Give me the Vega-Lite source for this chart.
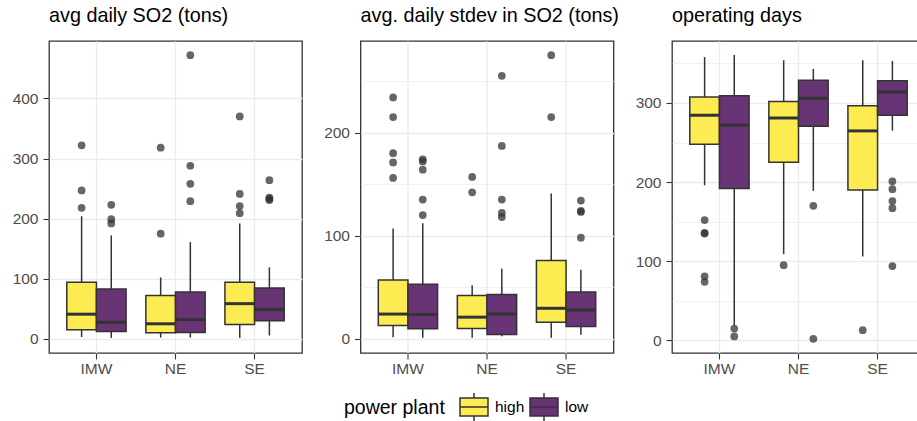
{
  "$schema": "https://vega.github.io/schema/vega-lite/v6.json",
  "background": "white",
  "padding": {"left": 11, "top": 5, "right": 0, "bottom": 0},
  "datasets": {
    "boxes": [
      {"metric": "so2", "region": "IMW", "plant": "high", "lo": 3, "q1": 15, "med": 41, "q3": 94, "hi": 204},
      {"metric": "so2", "region": "IMW", "plant": "low", "lo": 1.5, "q1": 12, "med": 27.5, "q3": 83, "hi": 172},
      {"metric": "so2", "region": "NE", "plant": "high", "lo": 2, "q1": 10, "med": 25, "q3": 72, "hi": 102},
      {"metric": "so2", "region": "NE", "plant": "low", "lo": 2, "q1": 10.5, "med": 32, "q3": 78, "hi": 161},
      {"metric": "so2", "region": "SE", "plant": "high", "lo": 1.5, "q1": 24, "med": 58.5, "q3": 94, "hi": 192},
      {"metric": "so2", "region": "SE", "plant": "low", "lo": 5.5, "q1": 30, "med": 49, "q3": 84.6, "hi": 119},
      {"metric": "sd", "region": "IMW", "plant": "high", "lo": 1.6, "q1": 13, "med": 24, "q3": 57, "hi": 107},
      {"metric": "sd", "region": "IMW", "plant": "low", "lo": 1, "q1": 9.7, "med": 23.5, "q3": 53, "hi": 112},
      {"metric": "sd", "region": "NE", "plant": "high", "lo": 1, "q1": 10, "med": 21, "q3": 42, "hi": 52},
      {"metric": "sd", "region": "NE", "plant": "low", "lo": 2.5, "q1": 4.2, "med": 24, "q3": 43, "hi": 68},
      {"metric": "sd", "region": "SE", "plant": "high", "lo": 1, "q1": 16, "med": 29.6, "q3": 76, "hi": 141},
      {"metric": "sd", "region": "SE", "plant": "low", "lo": 3.9, "q1": 12, "med": 28, "q3": 45.5, "hi": 67},
      {"metric": "days", "region": "IMW", "plant": "high", "lo": 196, "q1": 248, "med": 284.5, "q3": 307.6, "hi": 358},
      {"metric": "days", "region": "IMW", "plant": "low", "lo": 19, "q1": 192, "med": 272, "q3": 309, "hi": 360.6},
      {"metric": "days", "region": "NE", "plant": "high", "lo": 109, "q1": 225, "med": 281, "q3": 302, "hi": 354},
      {"metric": "days", "region": "NE", "plant": "low", "lo": 189, "q1": 270.6, "med": 306, "q3": 328.7, "hi": 343},
      {"metric": "days", "region": "SE", "plant": "high", "lo": 106, "q1": 190, "med": 264.7, "q3": 296.6, "hi": 354},
      {"metric": "days", "region": "SE", "plant": "low", "lo": 265, "q1": 284.5, "med": 314, "q3": 328, "hi": 353}
    ],
    "outliers": [
      {"metric": "so2", "region": "IMW", "plant": "high", "v": 218},
      {"metric": "so2", "region": "IMW", "plant": "high", "v": 247},
      {"metric": "so2", "region": "IMW", "plant": "high", "v": 322},
      {"metric": "so2", "region": "IMW", "plant": "low", "v": 192},
      {"metric": "so2", "region": "IMW", "plant": "low", "v": 199},
      {"metric": "so2", "region": "IMW", "plant": "low", "v": 223},
      {"metric": "so2", "region": "NE", "plant": "high", "v": 175},
      {"metric": "so2", "region": "NE", "plant": "high", "v": 318},
      {"metric": "so2", "region": "NE", "plant": "low", "v": 229},
      {"metric": "so2", "region": "NE", "plant": "low", "v": 258},
      {"metric": "so2", "region": "NE", "plant": "low", "v": 288},
      {"metric": "so2", "region": "NE", "plant": "low", "v": 472},
      {"metric": "so2", "region": "SE", "plant": "high", "v": 209},
      {"metric": "so2", "region": "SE", "plant": "high", "v": 221},
      {"metric": "so2", "region": "SE", "plant": "high", "v": 241},
      {"metric": "so2", "region": "SE", "plant": "high", "v": 370},
      {"metric": "so2", "region": "SE", "plant": "low", "v": 231},
      {"metric": "so2", "region": "SE", "plant": "low", "v": 233},
      {"metric": "so2", "region": "SE", "plant": "low", "v": 235},
      {"metric": "so2", "region": "SE", "plant": "low", "v": 264},
      {"metric": "sd", "region": "IMW", "plant": "high", "v": 156},
      {"metric": "sd", "region": "IMW", "plant": "high", "v": 171},
      {"metric": "sd", "region": "IMW", "plant": "high", "v": 180},
      {"metric": "sd", "region": "IMW", "plant": "high", "v": 215},
      {"metric": "sd", "region": "IMW", "plant": "high", "v": 234},
      {"metric": "sd", "region": "IMW", "plant": "low", "v": 120},
      {"metric": "sd", "region": "IMW", "plant": "low", "v": 135},
      {"metric": "sd", "region": "IMW", "plant": "low", "v": 164},
      {"metric": "sd", "region": "IMW", "plant": "low", "v": 172},
      {"metric": "sd", "region": "IMW", "plant": "low", "v": 174},
      {"metric": "sd", "region": "NE", "plant": "high", "v": 142},
      {"metric": "sd", "region": "NE", "plant": "high", "v": 157},
      {"metric": "sd", "region": "NE", "plant": "low", "v": 118},
      {"metric": "sd", "region": "NE", "plant": "low", "v": 122},
      {"metric": "sd", "region": "NE", "plant": "low", "v": 135},
      {"metric": "sd", "region": "NE", "plant": "low", "v": 187},
      {"metric": "sd", "region": "NE", "plant": "low", "v": 255},
      {"metric": "sd", "region": "SE", "plant": "high", "v": 215},
      {"metric": "sd", "region": "SE", "plant": "high", "v": 275},
      {"metric": "sd", "region": "SE", "plant": "low", "v": 98},
      {"metric": "sd", "region": "SE", "plant": "low", "v": 123},
      {"metric": "sd", "region": "SE", "plant": "low", "v": 124},
      {"metric": "sd", "region": "SE", "plant": "low", "v": 134},
      {"metric": "days", "region": "IMW", "plant": "high", "v": 74},
      {"metric": "days", "region": "IMW", "plant": "high", "v": 81},
      {"metric": "days", "region": "IMW", "plant": "high", "v": 135},
      {"metric": "days", "region": "IMW", "plant": "high", "v": 136},
      {"metric": "days", "region": "IMW", "plant": "high", "v": 152},
      {"metric": "days", "region": "IMW", "plant": "low", "v": 5},
      {"metric": "days", "region": "IMW", "plant": "low", "v": 15},
      {"metric": "days", "region": "NE", "plant": "high", "v": 95},
      {"metric": "days", "region": "NE", "plant": "low", "v": 2},
      {"metric": "days", "region": "NE", "plant": "low", "v": 170},
      {"metric": "days", "region": "SE", "plant": "high", "v": 13},
      {"metric": "days", "region": "SE", "plant": "low", "v": 94},
      {"metric": "days", "region": "SE", "plant": "low", "v": 167},
      {"metric": "days", "region": "SE", "plant": "low", "v": 176},
      {"metric": "days", "region": "SE", "plant": "low", "v": 191},
      {"metric": "days", "region": "SE", "plant": "low", "v": 201}
    ]
  },
  "config": {
    "font": "Liberation Sans",
    "view": {"stroke": "#333333", "strokeWidth": 1.3},
    "axis": {
      "labelFontSize": 15.5, "labelColor": "#4D4D4D", "labelPadding": 5,
      "tickColor": "#333333", "tickSize": 6, "tickWidth": 1.1,
      "domain": false, "gridColor": "#EBEBEB", "title": null
    },
    "axisX": {"labelPadding": 2},
    "title": {"anchor": "start", "frame": "group", "fontSize": 19.8, "fontWeight": "normal", "color": "#000000", "baseline": "alphabetic", "offset": 15, "font": "Liberation Sans"},
    "concat": {"spacing": 58.5}
  },
  "bounds": "flush",
  "hconcat": [
    {
      "width": 253, "height": 312,
      "title": {"text": "avg daily SO2 (tons)"},
      "layer": [
        {
          "data": {"name": "boxes"},
          "transform": [{"filter": "datum.metric === 'so2'"}],
          "mark": {"type": "rule", "color": "#333333", "strokeWidth": 1.5},
          "encoding": {
            "x": {"field": "region", "type": "nominal", "title": null, "scale": {"paddingInner": 0, "paddingOuter": 0.1}, "axis": {"bandPosition": 0.5, "grid": true, "gridWidth": 1.4, "labelAngle": 0}},
            "xOffset": {"field": "plant", "type": "nominal", "scale": {"paddingInner": 0, "paddingOuter": 0.3333}},
            "y": {"field": "lo", "type": "quantitative", "title": null, "scale": {"domain": [-23.6, 495.6], "nice": false, "zero": false},
              "axis": {"values": [0, 50, 100, 150, 200, 250, 300, 350, 400, 450], "grid": true,
                "labelExpr": "datum.value % 100 === 0 ? datum.label : ''",
                "tickOpacity": {"condition": {"test": "datum.value % 100 === 0", "value": 1}, "value": 0},
                "gridWidth": {"condition": {"test": "datum.value % 100 === 0", "value": 1.4}, "value": 0.7}}},
            "y2": {"field": "hi"}
          }
        },
        {
          "data": {"name": "boxes"},
          "transform": [{"filter": "datum.metric === 'so2'"}],
          "mark": {"type": "bar", "stroke": "#333333", "strokeWidth": 1.5},
          "encoding": {
            "x": {"field": "region", "type": "nominal"},
            "xOffset": {"field": "plant", "type": "nominal"},
            "y": {"field": "q1", "type": "quantitative"},
            "y2": {"field": "q3"},
            "color": {"field": "plant", "type": "nominal", "title": "power plant",
              "scale": {"domain": ["high", "low"], "range": ["#FDEC51", "#693476"]},
              "legend": {"orient": "none", "legendX": 295, "legendY": 351, "direction": "horizontal", "titleOrient": "left",
                "titleFontSize": 19.5, "titleFontWeight": "normal", "titleColor": "#000000", "titlePadding": 14,
                "labelFontSize": 15.5, "labelColor": "#000000", "labelOffset": 6, "columnPadding": 2,
                "symbolType": "M-1,-0.64H1V0.64H-1Z M-1,0H1 M0,-0.64V-1 M0,0.64V1",
                "symbolSize": 784, "symbolStrokeColor": "#333333", "symbolStrokeWidth": 1.5, "symbolOpacity": 1}}
          }
        },
        {
          "data": {"name": "boxes"},
          "transform": [{"filter": "datum.metric === 'so2'"}],
          "mark": {"type": "tick", "color": "#333333", "size": 29.6, "thickness": 3, "opacity": 1},
          "encoding": {
            "x": {"field": "region", "type": "nominal"},
            "xOffset": {"field": "plant", "type": "nominal"},
            "y": {"field": "med", "type": "quantitative"}
          }
        },
        {
          "data": {"name": "outliers"},
          "transform": [{"filter": "datum.metric === 'so2'"}],
          "mark": {"type": "point", "filled": true, "color": "#333333", "opacity": 0.75, "size": 60},
          "encoding": {
            "x": {"field": "region", "type": "nominal"},
            "xOffset": {"field": "plant", "type": "nominal"},
            "y": {"field": "v", "type": "quantitative"}
          }
        }
      ]
    },
    {
      "width": 253, "height": 312,
      "title": {"text": "avg. daily stdev in SO2 (tons)"},
      "layer": [
        {
          "data": {"name": "boxes"},
          "transform": [{"filter": "datum.metric === 'sd'"}],
          "mark": {"type": "rule", "color": "#333333", "strokeWidth": 1.5},
          "encoding": {
            "x": {"field": "region", "type": "nominal", "title": null, "scale": {"paddingInner": 0, "paddingOuter": 0.1}, "axis": {"bandPosition": 0.5, "grid": true, "gridWidth": 1.4, "labelAngle": 0}},
            "xOffset": {"field": "plant", "type": "nominal", "scale": {"paddingInner": 0, "paddingOuter": 0.3333}},
            "y": {"field": "lo", "type": "quantitative", "title": null, "scale": {"domain": [-13.75, 288.75], "nice": false, "zero": false},
              "axis": {"values": [0, 50, 100, 150, 200, 250], "grid": true,
                "labelExpr": "datum.value % 100 === 0 ? datum.label : ''",
                "tickOpacity": {"condition": {"test": "datum.value % 100 === 0", "value": 1}, "value": 0},
                "gridWidth": {"condition": {"test": "datum.value % 100 === 0", "value": 1.4}, "value": 0.7}}},
            "y2": {"field": "hi"}
          }
        },
        {
          "data": {"name": "boxes"},
          "transform": [{"filter": "datum.metric === 'sd'"}],
          "mark": {"type": "bar", "stroke": "#333333", "strokeWidth": 1.5},
          "encoding": {
            "x": {"field": "region", "type": "nominal"},
            "xOffset": {"field": "plant", "type": "nominal"},
            "y": {"field": "q1", "type": "quantitative"},
            "y2": {"field": "q3"},
            "color": {"field": "plant", "type": "nominal", "title": "power plant"}
          }
        },
        {
          "data": {"name": "boxes"},
          "transform": [{"filter": "datum.metric === 'sd'"}],
          "mark": {"type": "tick", "color": "#333333", "size": 29.6, "thickness": 3, "opacity": 1},
          "encoding": {
            "x": {"field": "region", "type": "nominal"},
            "xOffset": {"field": "plant", "type": "nominal"},
            "y": {"field": "med", "type": "quantitative"}
          }
        },
        {
          "data": {"name": "outliers"},
          "transform": [{"filter": "datum.metric === 'sd'"}],
          "mark": {"type": "point", "filled": true, "color": "#333333", "opacity": 0.75, "size": 60},
          "encoding": {
            "x": {"field": "region", "type": "nominal"},
            "xOffset": {"field": "plant", "type": "nominal"},
            "y": {"field": "v", "type": "quantitative"}
          }
        }
      ]
    },
    {
      "width": 253, "height": 312,
      "title": {"text": "operating days"},
      "layer": [
        {
          "data": {"name": "boxes"},
          "transform": [{"filter": "datum.metric === 'days'"}],
          "mark": {"type": "rule", "color": "#333333", "strokeWidth": 1.5},
          "encoding": {
            "x": {"field": "region", "type": "nominal", "title": null, "scale": {"paddingInner": 0, "paddingOuter": 0.1}, "axis": {"bandPosition": 0.5, "grid": true, "gridWidth": 1.4, "labelAngle": 0}},
            "xOffset": {"field": "plant", "type": "nominal", "scale": {"paddingInner": 0, "paddingOuter": 0.3333}},
            "y": {"field": "lo", "type": "quantitative", "title": null, "scale": {"domain": [-15.9, 378.3], "nice": false, "zero": false},
              "axis": {"values": [0, 50, 100, 150, 200, 250, 300, 350], "grid": true,
                "labelExpr": "datum.value % 100 === 0 ? datum.label : ''",
                "tickOpacity": {"condition": {"test": "datum.value % 100 === 0", "value": 1}, "value": 0},
                "gridWidth": {"condition": {"test": "datum.value % 100 === 0", "value": 1.4}, "value": 0.7}}},
            "y2": {"field": "hi"}
          }
        },
        {
          "data": {"name": "boxes"},
          "transform": [{"filter": "datum.metric === 'days'"}],
          "mark": {"type": "bar", "stroke": "#333333", "strokeWidth": 1.5},
          "encoding": {
            "x": {"field": "region", "type": "nominal"},
            "xOffset": {"field": "plant", "type": "nominal"},
            "y": {"field": "q1", "type": "quantitative"},
            "y2": {"field": "q3"},
            "color": {"field": "plant", "type": "nominal", "title": "power plant"}
          }
        },
        {
          "data": {"name": "boxes"},
          "transform": [{"filter": "datum.metric === 'days'"}],
          "mark": {"type": "tick", "color": "#333333", "size": 29.6, "thickness": 3, "opacity": 1},
          "encoding": {
            "x": {"field": "region", "type": "nominal"},
            "xOffset": {"field": "plant", "type": "nominal"},
            "y": {"field": "med", "type": "quantitative"}
          }
        },
        {
          "data": {"name": "outliers"},
          "transform": [{"filter": "datum.metric === 'days'"}],
          "mark": {"type": "point", "filled": true, "color": "#333333", "opacity": 0.75, "size": 60},
          "encoding": {
            "x": {"field": "region", "type": "nominal"},
            "xOffset": {"field": "plant", "type": "nominal"},
            "y": {"field": "v", "type": "quantitative"}
          }
        }
      ]
    }
  ]
}
